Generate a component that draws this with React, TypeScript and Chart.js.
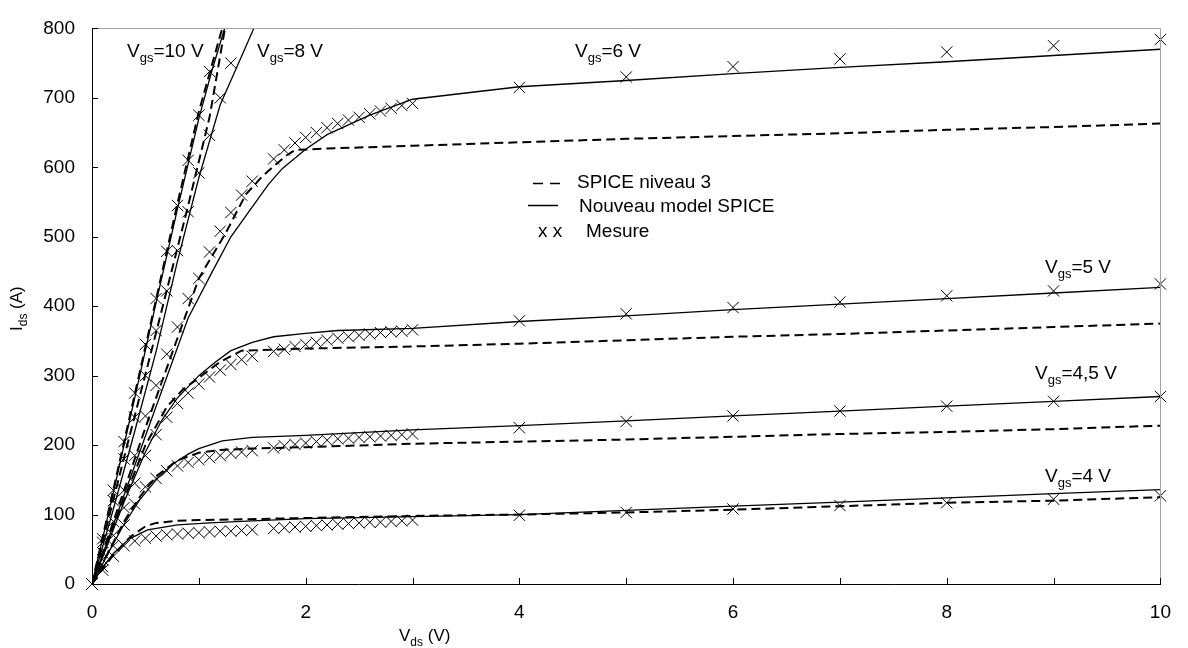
import { useEffect, useRef } from "react";
import { Chart, registerables } from "chart.js";

Chart.register(...registerables);

const FONT = '"Liberation Sans", Arial, Helvetica, sans-serif';

// ---------- Axis ticks ----------
const xTickValues = [0, 1, 2, 3, 4, 5, 6, 7, 8, 9, 10];
const yTickValues = [0, 100, 200, 300, 400, 500, 600, 700, 800];

// ---------- Measurements (Mesure) ----------
const measX = [0, 0.1, 0.2, 0.3, 0.4, 0.5, 0.6, 0.7, 0.8, 0.9, 1.0, 1.1, 1.2, 1.3, 1.4, 1.5,
  1.7, 1.8, 1.9, 2.0, 2.1, 2.2, 2.3, 2.4, 2.5, 2.6, 2.7, 2.8, 2.9, 3.0, 4, 5, 6, 7, 8, 9, 10];
const meas4 = [0, 20, 40, 55, 62, 66, 69, 71, 72, 73, 74, 75, 76, 76, 77, 78,
  80, 81, 82, 83, 84, 85, 86, 87, 88, 89, 89, 90, 91, 92, 99, 103, 108, 113, 117, 122, 127];
const meas45 = [0, 25, 55, 85, 115, 140, 152, 163, 170, 175, 179, 182, 185, 188, 190, 192,
  196, 199, 201, 203, 205, 207, 209, 210, 211, 212, 213, 214, 215, 216, 225, 234, 242, 249, 256, 263, 270];
const meas5 = [0, 35, 70, 110, 145, 185, 215, 240, 260, 275, 288, 298, 308, 316, 323, 328,
  335, 338, 342, 345, 348, 351, 354, 356, 358, 360, 362, 363, 364, 366, 379, 389, 398, 406, 415, 422, 432];
const meas6 = [0, 45, 90, 135, 185, 242, 286, 331, 370, 411, 440, 478, 508, 535, 560, 580,
  612, 625, 635, 643, 650, 657, 663, 668, 672, 677, 681, 685, 689, 692, 715, 730, 745, 756, 766, 775, 784];
const meas8X = [0, 0.1, 0.2, 0.3, 0.4, 0.5, 0.6, 0.7, 0.8, 0.9, 1.0, 1.1, 1.2, 1.3];
const meas8 = [0, 60, 120, 180, 240, 300, 365, 422, 480, 536, 592, 646, 700, 750];
const meas10X = [0, 0.1, 0.2, 0.3, 0.4, 0.5, 0.6, 0.7, 0.8, 0.9, 1.0, 1.1];
const meas10 = [0, 65, 135, 205, 275, 345, 411, 479, 545, 610, 675, 738];

// ---------- Nouveau model SPICE (solid) ----------
const new4X = [0, 0.1, 0.2, 0.35, 0.52, 0.8, 1.1, 1.5, 2, 3, 4, 5, 6, 7, 8, 9, 10];
const new4 = [0, 24, 44, 65, 78, 85, 88, 91, 94, 97, 100, 106, 112, 118, 124, 130, 136];
const new45X = [0, 0.15, 0.3, 0.45, 0.6, 0.75, 0.9, 1.0, 1.22, 1.5, 2, 3, 4, 5, 6, 7, 8, 9, 10];
const new45 = [0, 44, 86, 122, 150, 172, 187, 195, 206, 211, 214, 222, 228, 235, 242, 249, 256, 263, 270];
const new5X = [0, 0.3, 0.5, 0.65, 0.8, 1.0, 1.15, 1.3, 1.5, 1.7, 2.0, 2.3, 3, 4, 5, 6, 7, 8, 9, 10];
const new5 = [0, 118, 190, 235, 268, 300, 319, 336, 348, 356, 361, 365, 368, 378, 386, 395, 403, 411, 419, 427];
const new6X = [0, 0.5, 0.9, 1.12, 1.3, 1.5, 1.65, 1.78, 2.0, 2.2, 2.6, 3.0, 4, 5, 6, 7, 8, 9, 10];
const new6 = [0, 213, 383, 448, 500, 543, 575, 598, 626, 647, 675, 698, 716, 725, 735, 744, 752, 761, 770];
const new8X = [0, 0.2, 0.4, 0.6, 0.8, 1.0, 1.2, 1.4, 1.6];
const new8 = [0, 108, 220, 335, 465, 585, 690, 760, 830];
const new10X = [0, 0.2, 0.4, 0.6, 0.8, 1.0, 1.12, 1.3];
const new10 = [0, 132, 268, 405, 540, 670, 738, 830];

// ---------- SPICE niveau 3 (dashed) ----------
const sp4X = [0, 0.1, 0.2, 0.36, 0.5, 0.6, 0.8, 1, 2, 3, 4, 5, 6, 7, 8, 9, 10];
const sp4 = [0, 22, 42, 68, 83, 88, 91, 92, 95, 98, 100, 103, 107, 112, 117, 120, 125];
const sp45X = [0, 0.3, 0.45, 0.6, 0.8, 1.0, 1.2, 1.5, 2, 3, 4, 5, 6, 7, 8, 9, 10];
const sp45 = [0, 90, 126, 155, 178, 189, 193, 195, 197, 202, 205, 208, 212, 216, 219, 223, 228];
const sp5X = [0, 0.3, 0.5, 0.7, 0.85, 1.0, 1.2, 1.4, 2, 3, 4, 5, 6, 7, 8, 9, 10];
const sp5 = [0, 122, 200, 255, 280, 297, 320, 336, 339, 342, 346, 351, 356, 360, 365, 370, 375];
const sp6X = [0, 0.5, 1.0, 1.25, 1.44, 1.6, 1.72, 1.82, 1.9, 2.2, 3, 4, 5, 6, 7, 8, 9, 10];
const sp6 = [0, 225, 440, 505, 561, 588, 604, 617, 625, 627, 631, 636, 641, 645, 649, 654, 658, 663];
const sp8X = [0, 0.3, 0.6, 0.9, 1.1, 1.25];
const sp8 = [0, 182, 362, 545, 672, 805];
const sp10X = [0, 0.2, 0.4, 0.6, 0.8, 1.0, 1.2, 1.3];
const sp10 = [0, 136, 273, 410, 548, 680, 790, 840];

// ---------- Text ----------
const legendLabels = ["SPICE niveau 3", "Nouveau model SPICE", "Mesure"];
const curveLabels = ["=10 V", "=8 V", "=6 V", "=5 V", "=4,5 V", "=4 V"];

function pts(xs: number[], ys: number[]) {
  return xs.map((x, i) => ({ x, y: ys[i] }));
}

function solid(label: string, xs: number[], ys: number[]) {
  return {
    label, data: pts(xs, ys), showLine: true, borderColor: "#000", borderWidth: 1.3,
    pointRadius: 0, pointHoverRadius: 0, tension: 0, fill: false,
  };
}
function dashed(label: string, xs: number[], ys: number[]) {
  return {
    label, data: pts(xs, ys), showLine: true, borderColor: "#000", borderWidth: 2,
    borderDash: [9, 5], pointRadius: 0, pointHoverRadius: 0, tension: 0, fill: false,
  };
}
function meas(label: string, xs: number[], ys: number[]) {
  return {
    label, data: pts(xs, ys), showLine: false, pointStyle: "crossRot", pointRadius: 8,
    borderColor: "#000", backgroundColor: "#000", borderWidth: 1, clip: false,
  };
}

function drawSub(ctx: CanvasRenderingContext2D, x: number, y: number, a: string, sub: string, b: string, size: number) {
  ctx.font = `${size}px ${FONT}`;
  ctx.fillText(a, x, y);
  let w = ctx.measureText(a).width;
  ctx.font = `${Math.round(size * 0.68)}px ${FONT}`;
  ctx.fillText(sub, x + w, y + 4.5);
  w += ctx.measureText(sub).width;
  ctx.font = `${size}px ${FONT}`;
  ctx.fillText(b, x + w, y);
}

const deco = {
  id: "deco",
  afterDraw(chart: any) {
    const { ctx, chartArea, scales } = chart;
    const { left, right, top, bottom } = chartArea;
    const xs = scales.x, ys = scales.y;
    ctx.save();
    // grey top/right frame
    ctx.strokeStyle = "#a0a0a0";
    ctx.lineWidth = 1;
    ctx.setLineDash([]);
    ctx.beginPath();
    ctx.moveTo(left, Math.round(top) + 0.5);
    ctx.lineTo(Math.round(right) + 0.5, Math.round(top) + 0.5);
    ctx.lineTo(Math.round(right) + 0.5, bottom);
    ctx.stroke();
    // inward tick marks
    ctx.strokeStyle = "#000";
    ctx.beginPath();
    xTickValues.forEach((v) => {
      const px = Math.round(xs.getPixelForValue(v)) + 0.5;
      ctx.moveTo(px, bottom);
      ctx.lineTo(px, bottom - 6);
    });
    yTickValues.forEach((v) => {
      const py = Math.round(ys.getPixelForValue(v)) + 0.5;
      ctx.moveTo(left, py);
      ctx.lineTo(left + 6, py);
    });
    ctx.stroke();

    ctx.fillStyle = "#000";
    ctx.textAlign = "left";
    ctx.textBaseline = "alphabetic";
    // curve annotations
    drawSub(ctx, 127, 57, "V", "gs", curveLabels[0], 19);
    drawSub(ctx, 257, 57, "V", "gs", curveLabels[1], 19);
    drawSub(ctx, 575, 57, "V", "gs", curveLabels[2], 19);
    drawSub(ctx, 1045, 273, "V", "gs", curveLabels[3], 19);
    drawSub(ctx, 1035, 379, "V", "gs", curveLabels[4], 19);
    drawSub(ctx, 1045, 482, "V", "gs", curveLabels[5], 19);

    // legend
    ctx.lineWidth = 1.3;
    ctx.beginPath();
    ctx.moveTo(533, 183.5); ctx.lineTo(543, 183.5);
    ctx.moveTo(550, 183.5); ctx.lineTo(560, 183.5);
    ctx.moveTo(528, 205.5); ctx.lineTo(558, 205.5);
    ctx.stroke();
    ctx.font = `19px ${FONT}`;
    ctx.fillText(legendLabels[0], 577, 188);
    ctx.fillText(legendLabels[1], 579, 212);
    ctx.fillText("x x", 538, 237);
    ctx.fillText(legendLabels[2], 586, 237);

    // axis titles
    drawSub(ctx, 399, 641, "V", "ds", " (V)", 17);
    ctx.save();
    ctx.translate(22, 331);
    ctx.rotate(-Math.PI / 2);
    drawSub(ctx, 0, 0, "I", "ds", " (A)", 17);
    ctx.restore();

    ctx.restore();
  },
};

export default function App() {
  const ref = useRef<HTMLCanvasElement | null>(null);
  useEffect(() => {
    if (!ref.current) return;
    const chart = new Chart(ref.current, {
      type: "scatter",
      data: {
        datasets: [
          meas("Mesure 10", meas10X, meas10),
          meas("Mesure 8", meas8X, meas8),
          meas("Mesure 6", measX, meas6),
          meas("Mesure 5", measX, meas5),
          meas("Mesure 4.5", measX, meas45),
          meas("Mesure 4", measX, meas4),
          solid("Nouveau 10", new10X, new10),
          solid("Nouveau 8", new8X, new8),
          solid("Nouveau 6", new6X, new6),
          solid("Nouveau 5", new5X, new5),
          solid("Nouveau 4.5", new45X, new45),
          solid("Nouveau 4", new4X, new4),
          dashed("SPICE 10", sp10X, sp10),
          dashed("SPICE 8", sp8X, sp8),
          dashed("SPICE 6", sp6X, sp6),
          dashed("SPICE 5", sp5X, sp5),
          dashed("SPICE 4.5", sp45X, sp45),
          dashed("SPICE 4", sp4X, sp4),
        ] as any,
      },
      options: {
        animation: false,
        responsive: false,
        devicePixelRatio: 1,
        events: [],
        layout: { padding: { left: 0, top: 18, right: 20, bottom: 0 } },
        plugins: { legend: { display: false }, tooltip: { enabled: false } },
        scales: {
          x: {
            type: "linear", min: 0, max: 10,
            afterBuildTicks: (s: any) => { s.ticks = xTickValues.map((v) => ({ value: v })); },
            ticks: {
              autoSkip: false, maxRotation: 0, padding: 17, color: "#000",
              font: { family: FONT, size: 19 },
              callback: (v: any) => (Number(v) % 2 === 0 ? String(v) : ""),
            },
            grid: { display: false, drawTicks: false },
            border: { display: true, color: "#000", width: 1 },
            afterFit: (s: any) => { s.height = 64; },
          },
          y: {
            type: "linear", min: 0, max: 800,
            afterBuildTicks: (s: any) => { s.ticks = yTickValues.map((v) => ({ value: v })); },
            ticks: {
              autoSkip: false, padding: 17, color: "#000",
              font: { family: FONT, size: 19 },
            },
            grid: { display: false, drawTicks: false },
            border: { display: true, color: "#000", width: 1 },
            afterFit: (s: any) => { s.width = 92; },
          },
        },
      } as any,
      plugins: [deco],
    });
    return () => chart.destroy();
  }, []);
  return (
    <div style={{ position: "absolute", left: 0, top: 0, width: 1188, height: 648, background: "#fff" }}>
      <canvas ref={ref} width={1188} height={648} />
    </div>
  );
}
